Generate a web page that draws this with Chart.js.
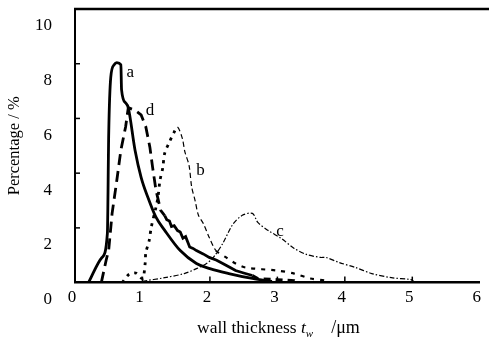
<!DOCTYPE html>
<html>
<head>
<meta charset="utf-8">
<script src="https://cdn.jsdelivr.net/npm/chart.js@4/dist/chart.umd.min.js"></script>
<style>
  html, body { margin: 0; padding: 0; background: #fff; overflow: hidden; }
  #wrap { width: 489px; height: 346px; }
</style>
</head>
<body>
<div id="wrap"><canvas id="chart" width="489" height="346"></canvas></div>
<script>
// ***************************************************
// Data
// ***************************************************

var xTicks = [0, 1, 2, 3, 4, 5, 6];
var yTicks = [0, 2, 4, 6, 8, 10];

// curve a : solid
var aX = [0.2, 0.4, 0.48, 0.5, 0.53, 0.58, 0.62, 0.68, 0.69, 0.75, 0.79, 0.89, 0.98, 1.08, 1.2, 1.33, 1.56, 1.8, 2.0, 2.28, 2.63, 2.92];
var aY = [0, 0.92, 1.8, 5.47, 7.5, 7.96, 8.04, 7.96, 7.05, 6.57, 6.39, 4.84, 3.85, 3.12, 2.39, 1.91, 1.17, 0.7, 0.51, 0.33, 0.15, 0.04];

// curve b : dotted rise, dashed fall
var bX = [0.7, 0.8, 0.9, 1.0, 1.04, 1.05, 1.1, 1.13, 1.2, 1.23, 1.26, 1.3, 1.33, 1.4, 1.47, 1.52, 1.59, 1.63, 1.69, 1.73, 1.78, 1.83, 1.9, 1.99, 2.09, 2.24, 2.38, 2.53, 3.0, 3.25, 3.49, 3.72, 3.8];
var bY = [0, 0.3, 0.35, 0.15, 0.7, 1.1, 1.54, 2.02, 2.75, 3.12, 3.74, 4.18, 4.73, 5.14, 5.5, 5.69, 5.28, 4.77, 4.29, 3.49, 3.0, 2.46, 2.17, 1.65, 1.17, 0.92, 0.7, 0.55, 0.44, 0.33, 0.15, 0.07, 0];

// curve c : dash-dot
var cX = [1.0, 1.33, 1.62, 1.8, 1.95, 2.05, 2.19, 2.34, 2.48, 2.63, 2.71, 2.86, 3.06, 3.25, 3.43, 3.64, 3.72, 3.92, 4.16, 4.4, 4.69, 4.98, 5.02];
var cY = [0.05, 0.18, 0.33, 0.51, 0.7, 0.92, 1.43, 2.13, 2.46, 2.53, 2.2, 1.91, 1.61, 1.25, 1.03, 0.92, 0.92, 0.73, 0.55, 0.33, 0.18, 0.11, 0.05];

// curve d : long dash, jagged tail
var dX = [0.39, 0.46, 0.5, 0.55, 0.62, 0.68, 0.75, 0.79, 0.89, 0.98, 1.05, 1.11, 1.15, 1.2, 1.27, 1.33, 1.36, 1.4, 1.43, 1.47, 1.52, 1.56, 1.6, 1.64, 1.7, 1.75, 1.8, 1.9, 1.99, 2.1, 2.19, 2.3, 2.38, 2.5, 2.63, 2.71, 3.0, 3.25, 3.3];
var dY = [0, 0.8, 1.2, 2.53, 3.74, 4.84, 5.69, 6.39, 6.3, 6.13, 5.69, 4.95, 4.22, 3.38, 2.64, 2.45, 2.3, 2.25, 2.05, 2.08, 1.9, 1.85, 1.62, 1.68, 1.3, 1.25, 1.17, 1.05, 0.92, 0.82, 0.7, 0.55, 0.44, 0.35, 0.26, 0.15, 0.11, 0.07, 0];

// curve names and where they sit (data units)
var curveNames = ['a', 'b', 'c', 'd'];
var nameX = [0.82, 1.86, 3.04, 1.11];
var nameY = [7.67, 4.11, 1.87, 6.28];

// ***************************************************
// Helpers
// ***************************************************

var SERIF = '"Liberation Serif", "Times New Roman", serif';

function points(xs, ys) {
  return xs.map(function (x, i) { return { x: x, y: ys[i] }; });
}

// inward tick marks, top border, curve names, x title
var frame = {
  id: 'frame',
  afterDraw: function (chart) {
    var ctx = chart.ctx, area = chart.chartArea;
    var xs = chart.scales.x, ys = chart.scales.y;
    ctx.save();
    ctx.strokeStyle = '#000';

    ctx.lineWidth = 2.5;
    ctx.beginPath();
    ctx.moveTo(area.left - 1, area.top);
    ctx.lineTo(chart.width, area.top);
    ctx.stroke();

    ctx.lineWidth = 1.5;
    yTicks.slice(1, -1).forEach(function (v) {
      var py = ys.getPixelForValue(v);
      ctx.beginPath();
      ctx.moveTo(area.left, py);
      ctx.lineTo(area.left + 5, py);
      ctx.stroke();
    });
    xTicks.slice(1, -1).forEach(function (v) {
      var px = xs.getPixelForValue(v);
      ctx.beginPath();
      ctx.moveTo(px, area.bottom);
      ctx.lineTo(px, area.bottom - 6);
      ctx.stroke();
    });

    ctx.fillStyle = '#000';
    ctx.textAlign = 'center';
    ctx.textBaseline = 'middle';
    ctx.font = '17px ' + SERIF;
    curveNames.forEach(function (n, i) {
      ctx.fillText(n, xs.getPixelForValue(nameX[i]), ys.getPixelForValue(nameY[i]));
    });

    // x title: wall thickness t_w /um
    var parts = [
      { t: 'wall thickness ', f: '17.5px ' + SERIF, dy: 0 },
      { t: 't', f: 'italic 17.5px ' + SERIF, dy: 0 },
      { t: 'w', f: 'italic 11px ' + SERIF, dy: 4 },
      { t: '    /\u03bcm', f: '18px ' + SERIF, dy: 0 }
    ];
    var x0 = 197, ty = 333;
    ctx.textAlign = 'left';
    ctx.textBaseline = 'alphabetic';
    parts.forEach(function (p) {
      ctx.font = p.f;
      ctx.fillText(p.t, x0, ty + p.dy);
      x0 += ctx.measureText(p.t).width;
    });
    ctx.restore();
  }
};

// ***************************************************
// Chart
// ***************************************************

var bSplit = 1.52, bTail = 2.09, dSplit = 1.33, dTail = 2.63;

new Chart(document.getElementById('chart'), {
  type: 'line',
  data: {
    datasets: [
      {
        label: 'a', data: points(aX, aY),
        borderColor: '#000', borderWidth: 2.8, tension: 0.3, cubicInterpolationMode: 'monotone'
      },
      {
        label: 'b', data: points(bX, bY),
        borderColor: '#000', tension: 0.3,
        borderWidth: 2.8, borderDash: [3, 5],
        segment: {
          borderWidth: function (c) {
            var x = c.p0.parsed.x;
            return x < bSplit ? 2.8 : (x < bTail ? 1.2 : 2.2);
          },
          borderDash: function (c) {
            var x = c.p0.parsed.x;
            return x < bSplit ? [3, 5] : (x < bTail ? [5, 3] : [4, 6]);
          }
        }
      },
      {
        label: 'c', data: points(cX, cY),
        borderColor: '#000', borderWidth: 1.2, borderDash: [5, 2, 1.5, 2], tension: 0.3
      },
      {
        label: 'd', data: points(dX, dY),
        borderColor: '#000', borderWidth: 2.8, tension: 0,
        segment: {
          borderDash: function (c) {
            var x = c.p0.parsed.x;
            return x < dSplit ? [11, 6] : (x < dTail ? [] : [7, 5]);
          }
        }
      }
    ]
  },
  options: {
    responsive: false,
    animation: false,
    events: [],
    elements: { point: { radius: 0 }, line: { fill: false } },
    layout: { padding: { top: 9, right: 0, bottom: 33, left: 0 } },
    plugins: { legend: { display: false }, tooltip: { enabled: false } },
    scales: {
      x: {
        type: 'linear', min: 0, max: 6,
        afterBuildTicks: function (s) { s.ticks = xTicks.map(function (v) { return { value: v }; }); },
        grid: { display: false, drawTicks: false },
        border: { color: '#000', width: 2.5 },
        ticks: { color: '#000', font: { family: SERIF, size: 17 }, padding: 5, labelOffset: -3, maxRotation: 0 }
      },
      y: {
        min: 0, max: 10,
        afterBuildTicks: function (s) { s.ticks = yTicks.map(function (v) { return { value: v }; }); },
        afterFit: function (s) { s.width = 75; s.paddingTop = 0; s.paddingBottom = 0; },
        grid: { display: false, drawTicks: false },
        border: { color: '#000', width: 2 },
        ticks: { color: '#000', font: { family: SERIF, size: 17 }, padding: 23, labelOffset: 17 },
        title: {
          display: true, text: 'Percentage / %', color: '#000',
          font: { family: SERIF, size: 16.5 }, padding: { top: 5, bottom: 0 }
        }
      }
    }
  },
  plugins: [frame]
});
</script>
</body>
</html>
